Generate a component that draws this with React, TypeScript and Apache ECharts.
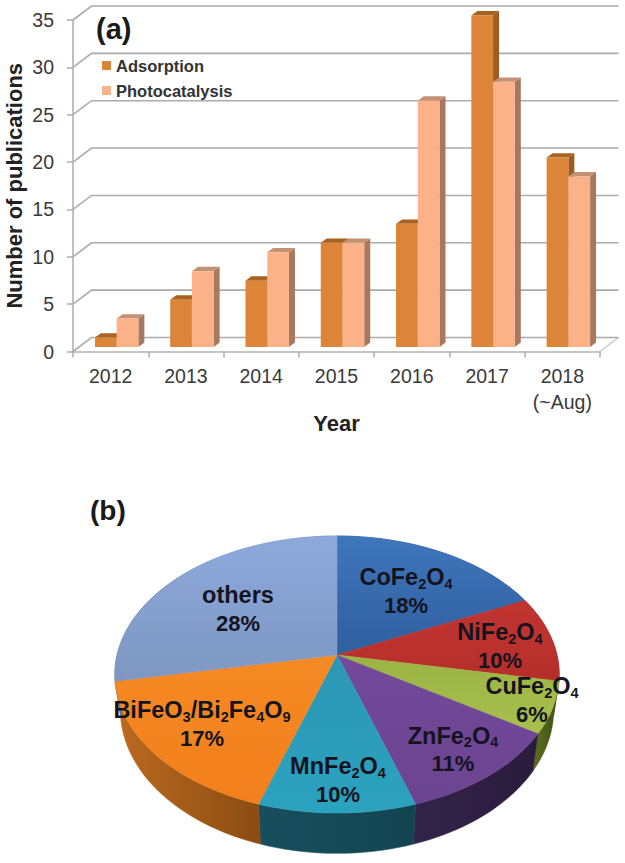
import React, { useEffect, useRef } from "react";
import * as echarts from "echarts";

const years = ["2012", "2013", "2014", "2015", "2016", "2017", "2018\n(~Aug)"];
const adsorption = [1, 5, 7, 11, 13, 35, 20];
const photocatalysis = [3, 8, 10, 11, 26, 28, 18];
const yTicks = [0, 5, 10, 15, 20, 25, 30, 35];

const pieNames = ["CoFe2O4", "NiFe2O4", "CuFe2O4", "ZnFe2O4", "MnFe2O4", "BiFeO3/Bi2Fe4O9", "others"];
const pieValues = [18, 10, 6, 11, 10, 17, 28];

const pieTop = [
  ["#3F76BC", "#2F5F9F"], ["#C23531", "#B52E2A"], ["#9AB342", "#A8C04E"], ["#74499C", "#6B4490"],
  ["#2C97B4", "#2BA2BF"], ["#F58A25", "#F27F1B"], ["#8DA9DC", "#7E97C2"],
];
const pieSide = [
  ["#24497A", "#24497A"], ["#6B1D1A", "#7A2320"], ["#5C7020", "#3F4F14"], ["#33234A", "#2A1C3C"],
  ["#184F5E", "#124450"], ["#BC6A20", "#8A4C12"], ["#5C76A4", "#5C76A4"],
];
const pieLabelPos = [[406, 591], [500, 646], [532, 700], [453, 749.5], [338, 780], [202, 724], [238, 609]];

const FONT = "Liberation Sans";
const GRID = { left: 73, top: 20, width: 527, height: 331.5 };
const WALL_DX = 18.5;
const WALL_DY = 14;
const BAR_DX = 6;
const BAR_DY = 4.4;
const BAR_FRONT_DY = 4.5;
const BAR_BAND = 0.2886;

const PIE = { cx: 337, cy: 655, a: 220, b: 135.8, k: 0.141, depth: 34.6, shrink: 0.975 };

function rim(phi: number, drop = false): number[] {
  const X = Math.sin(phi);
  const Y = Math.cos(phi);
  const d = 1 + PIE.k * Y;
  const dx = (PIE.a * X) / d;
  const dy = (-PIE.b * Y) / d;
  if (!drop) return [PIE.cx + dx, PIE.cy + dy];
  return [PIE.cx + dx * PIE.shrink, PIE.cy + dy + PIE.depth / d];
}

function sliceAngles(i: number): number[] {
  const total = pieValues.reduce((s, v) => s + v, 0);
  const before = pieValues.slice(0, i).reduce((s, v) => s + v, 0);
  return [(before / total) * Math.PI * 2, ((before + pieValues[i]) / total) * Math.PI * 2];
}

function rimPoints(i: number, drop = false): number[][] {
  const [a0, a1] = sliceAngles(i);
  const n = Math.max(6, Math.round((a1 - a0) * 30));
  const pts: number[][] = [];
  for (let j = 0; j <= n; j++) pts.push(rim(a0 + ((a1 - a0) * j) / n, drop));
  return pts;
}

function pieLabel(name: string, value: number): string {
  const parts = name.split(/(\d)/);
  const head = parts
    .map((p, i) => (p === "" ? "" : i % 2 ? `{s|${p}}` : `{m|${p}}`))
    .join("");
  return `${head}\n{p|${value}%}`;
}

function barRenderer(front: string, top: string, side: string, offset: number) {
  return (params: any, api: any) => {
    const i = api.value(0);
    const v = api.value(1);
    const base = api.coord([i, 0]);
    const tip = api.coord([i, v]);
    const w = api.size([1, 0])[0] * BAR_BAND;
    const x0 = base[0] + BAR_DX + offset * w;
    const x1 = x0 + w;
    const y0 = base[1] - BAR_FRONT_DY;
    const y1 = tip[1] - BAR_FRONT_DY;
    return {
      type: "group",
      children: [
        {
          type: "polygon",
          shape: { points: [[x1, y1], [x1 + BAR_DX, y1 - BAR_DY], [x1 + BAR_DX, y0 - BAR_DY], [x1, y0]] },
          style: { fill: side },
        },
        {
          type: "polygon",
          shape: { points: [[x0, y1], [x0 + BAR_DX, y1 - BAR_DY], [x1 + BAR_DX, y1 - BAR_DY], [x1, y1]] },
          style: { fill: top },
        },
        { type: "rect", shape: { x: x0, y: y1, width: w, height: y0 - y1 }, style: { fill: front } },
      ],
    };
  };
}

function gridRenderer(params: any, api: any) {
  const v = api.value(1);
  const y = api.coord([0, v])[1];
  const x0 = params.coordSys.x;
  const x1 = x0 + params.coordSys.width;
  const children: any[] = [
    {
      type: "polyline",
      shape: { points: [[x0, y], [x0 + WALL_DX, y - WALL_DY], [x1 + WALL_DX, y - WALL_DY]] },
      style: { stroke: "#ABABAB", lineWidth: 1.6, fill: "none" },
    },
  ];
  if (v === 0) {
    children.push({
      type: "line",
      shape: { x1, y1: y, x2: x1 + WALL_DX, y2: y - WALL_DY },
      style: { stroke: "#C4C4C4", lineWidth: 1.2 },
    });
  }
  return { type: "group", children };
}

function gradient(colors: string[], x: number, y: number, x2: number, y2: number) {
  return {
    type: "linear",
    x,
    y,
    x2,
    y2,
    global: true,
    colorStops: [
      { offset: 0, color: colors[0] },
      { offset: 1, color: colors[1] },
    ],
  };
}

function pieSideRenderer(params: any) {
  const i = params.dataIndex;
  const upper = rimPoints(i);
  const lower = rimPoints(i, true).reverse();
  const xs = upper.concat(lower).map((p) => p[0]);
  const c = pieSide[i];
  const fill = gradient(c, Math.min(...xs), 0, Math.max(...xs), 0);
  return {
    type: "polygon",
    shape: { points: upper.concat(lower) },
    style: { fill, stroke: fill, lineWidth: 0.5 },
  };
}

function pieTopRenderer(params: any) {
  const i = params.dataIndex;
  const pts = [[PIE.cx, PIE.cy]].concat(rimPoints(i));
  const ys = pts.map((p) => p[1]);
  const fill = gradient(pieTop[i], 0, Math.min(...ys), 0, Math.max(...ys));
  return {
    type: "polygon",
    shape: { points: pts },
    style: { fill, stroke: fill, lineWidth: 0.5 },
  };
}

function pieLabelRenderer(params: any, api: any) {
  const i = params.dataIndex;
  const main = { fontFamily: FONT, fontWeight: "bold", fontSize: 23.5, lineHeight: 28, fill: "#14141E" };
  return {
    type: "text",
    style: {
      x: pieLabelPos[i][0],
      y: pieLabelPos[i][1],
      text: pieLabel(pieNames[i], api.value(0)),
      align: "center",
      verticalAlign: "middle",
      fontFamily: FONT,
      rich: {
        m: main,
        p: { ...main, fontSize: 22 },
        s: { ...main, fontSize: 14.5, lineHeight: 14, verticalAlign: "bottom" },
      },
    },
  };
}

export default function App() {
  const ref = useRef<HTMLDivElement>(null);

  useEffect(() => {
    document.body.style.margin = "0";
    document.body.style.background = "#fff";
    const chart = echarts.init(ref.current!, undefined, { renderer: "svg" });
    const axisGrey = { color: "#B2B2B2", width: 1.6 };
    const pieData = pieNames.map((name, i) => ({ name, value: [pieValues[i]] }));
    chart.setOption({
      animation: false,
      backgroundColor: "#ffffff",
      grid: { ...GRID, containLabel: false, outerBoundsMode: "none" },
      legend: {
        data: ["Adsorption", "Photocatalysis"],
        orient: "vertical",
        left: 102,
        top: 57,
        padding: 0,
        icon: "rect",
        itemWidth: 9,
        itemHeight: 9,
        itemGap: 8,
        selectedMode: false,
        textStyle: { fontFamily: FONT, fontWeight: "bold", fontSize: 16.5, color: "#333333" },
      },
      title: [
        { text: "(a)", left: 96, top: 14, padding: 0, textStyle: { fontFamily: FONT, fontWeight: "bold", fontSize: 29, color: "#1A1A1A" } },
        { text: "(b)", left: 90, top: 496, padding: 0, textStyle: { fontFamily: FONT, fontWeight: "bold", fontSize: 28, color: "#1A1A1A" } },
      ],
      xAxis: {
        type: "category",
        data: years,
        name: "Year",
        nameLocation: "middle",
        nameGap: 61,
        nameMoveOverlap: false,
        nameTextStyle: { fontFamily: FONT, fontWeight: "bold", fontSize: 22, color: "#222222" },
        axisLine: { lineStyle: axisGrey },
        axisTick: { show: true, length: 6, lineStyle: axisGrey },
        axisLabel: { interval: 0, margin: 11, fontFamily: FONT, fontSize: 19.5, lineHeight: 26, color: "#3A3A3A" },
      },
      yAxis: {
        type: "value",
        min: 0,
        max: 35,
        interval: 5,
        name: "Number of publications",
        nameLocation: "middle",
        nameGap: 48,
        nameMoveOverlap: false,
        nameTextStyle: { fontFamily: FONT, fontWeight: "bold", fontSize: 22, color: "#222222" },
        splitLine: { show: false },
        axisLine: { show: true, lineStyle: axisGrey },
        axisTick: { show: true, length: 6, lineStyle: axisGrey },
        axisLabel: { margin: 19, fontFamily: FONT, fontSize: 19.5, color: "#3A3A3A" },
      },
      series: [
        {
          type: "custom",
          name: "wall",
          renderItem: gridRenderer,
          data: yTicks.map((t) => [0, t]),
          encode: { x: 0, y: 1 },
          silent: true,
          z: 1,
        },
        {
          type: "custom",
          name: "Adsorption",
          renderItem: barRenderer("#DC8438", "#A9621F", "#9C5C22", -1),
          data: adsorption.map((v, i) => [i, v]),
          encode: { x: 0, y: 1 },
          itemStyle: { color: "#DC8438" },
          silent: true,
          z: 2,
        },
        {
          type: "custom",
          name: "Photocatalysis",
          renderItem: barRenderer("#FBB288", "#C39174", "#A9785C", 0),
          data: photocatalysis.map((v, i) => [i, v]),
          encode: { x: 0, y: 1 },
          itemStyle: { color: "#F5B48E" },
          silent: true,
          z: 3,
        },
        { type: "custom", name: "pie side", coordinateSystem: "none", renderItem: pieSideRenderer, data: pieData, silent: true, z: 4 },
        { type: "custom", name: "pie top", coordinateSystem: "none", renderItem: pieTopRenderer, data: pieData, silent: true, z: 5 },
        { type: "custom", name: "pie labels", coordinateSystem: "none", renderItem: pieLabelRenderer, data: pieData, silent: true, z: 6 },
      ],
    });
    return () => chart.dispose();
  }, []);

  return <div ref={ref} style={{ position: "fixed", left: 0, top: 0, width: 625, height: 863 }} />;
}
